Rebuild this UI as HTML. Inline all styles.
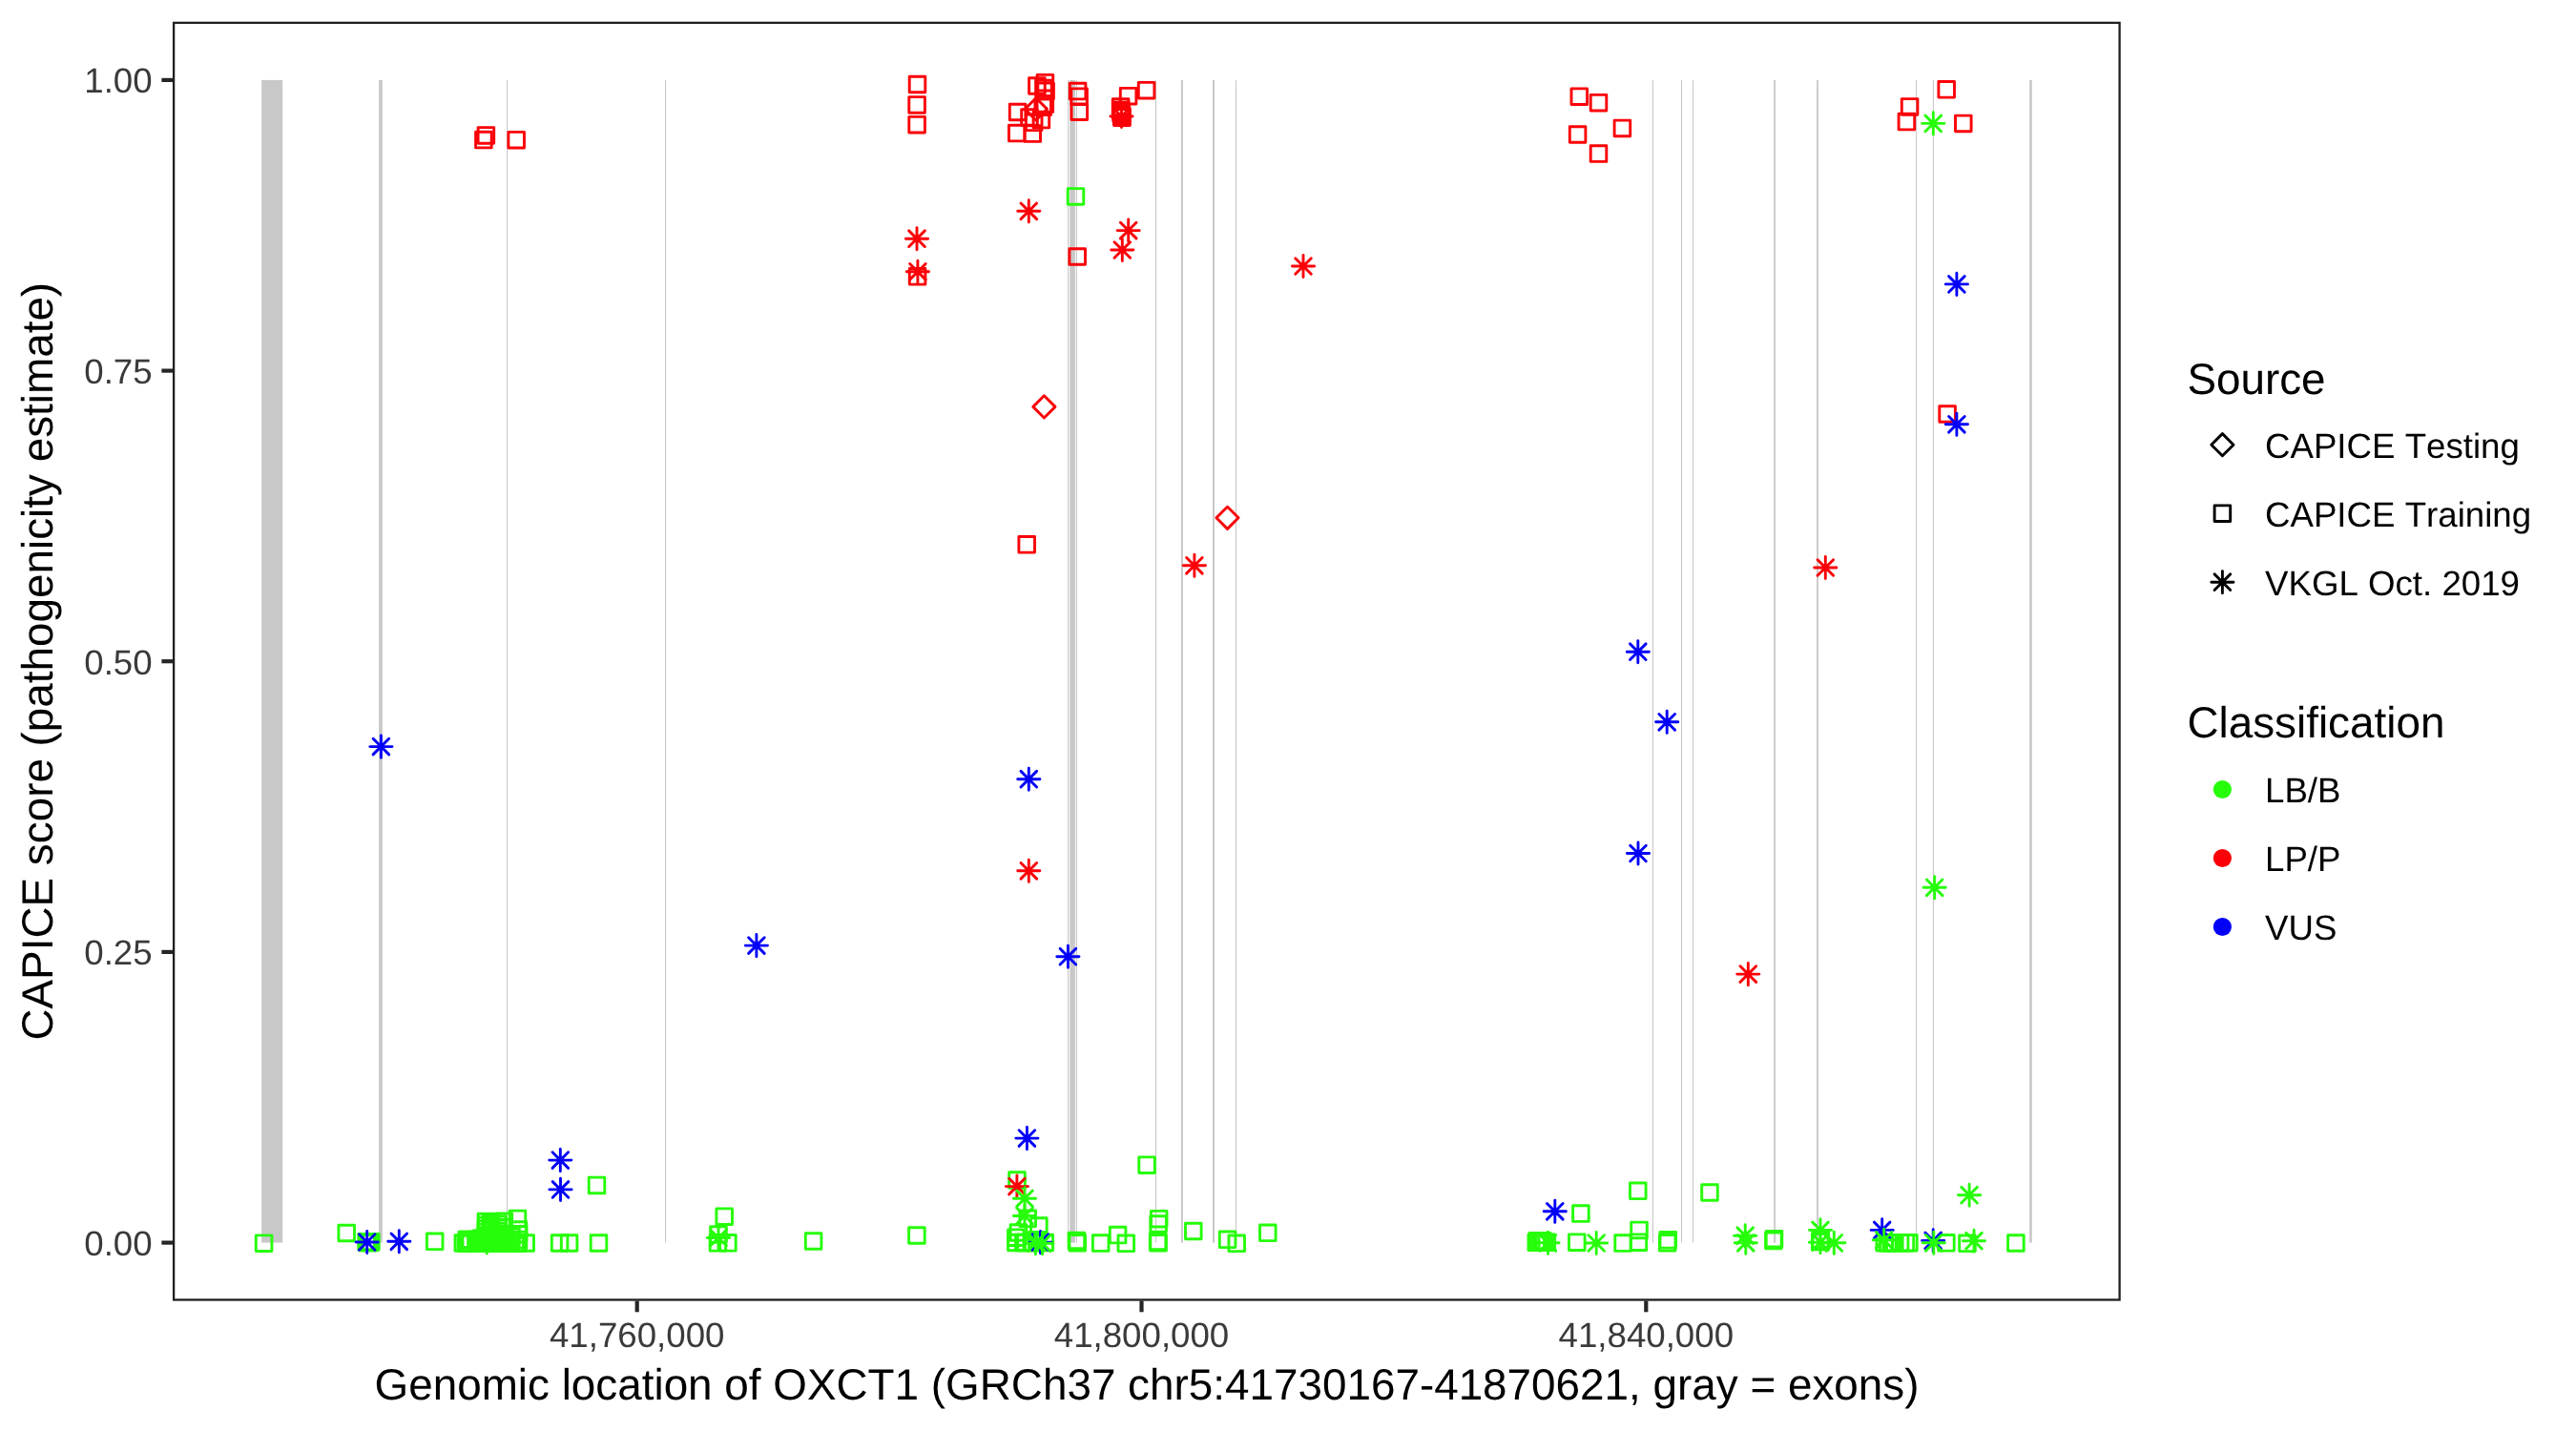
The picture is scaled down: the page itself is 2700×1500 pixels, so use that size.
<!DOCTYPE html>
<html><head><meta charset="utf-8"><title>CAPICE OXCT1</title>
<style>
html,body{margin:0;padding:0;background:#fff;}
body{width:2700px;height:1500px;overflow:hidden;}
svg{display:block;}
text{font-family:"Liberation Sans",sans-serif;font-kerning:none;text-rendering:geometricPrecision;}
svg{will-change:transform;}
.at{font-size:36.67px;fill:#3A3A3A;}
.ti{font-size:45.83px;fill:#000;}
.lt{font-size:36.67px;fill:#000;}
.m{fill:none;stroke-width:2.9;stroke-linejoin:round;stroke-linecap:round;}
</style></head><body>
<svg width="2700" height="1500" viewBox="0 0 2700 1500">
<defs>
<rect id="s" x="-8.3" y="-8.3" width="16.6" height="16.6"/>
<path id="d" d="M-11.6,0 L0,-11.6 L11.6,0 L0,11.6 Z"/>
<path id="a" d="M-11.6,0 H11.6 M0,-11.6 V11.6 M-8.3,-8.3 L8.3,8.3 M-8.3,8.3 L8.3,-8.3"/>
</defs>
<rect x="0" y="0" width="2700" height="1500" fill="#fff"/>

<g fill="#C8C8C8">
<rect x="274.20" y="83.9" width="22.00" height="1218.7"/>
<rect x="397.10" y="83.9" width="3.70" height="1218.7"/>
<rect x="531.05" y="83.9" width="1.10" height="1218.7"/>
<rect x="697.05" y="83.9" width="1.10" height="1218.7"/>
<rect x="1119.05" y="83.9" width="1.10" height="1218.7"/>
<rect x="1121.30" y="83.9" width="5.60" height="1218.7"/>
<rect x="1127.85" y="83.9" width="1.10" height="1218.7"/>
<rect x="1210.95" y="83.9" width="1.10" height="1218.7"/>
<rect x="1237.90" y="83.9" width="2.00" height="1218.7"/>
<rect x="1271.00" y="83.9" width="2.00" height="1218.7"/>
<rect x="1294.95" y="83.9" width="1.10" height="1218.7"/>
<rect x="1731.95" y="83.9" width="1.10" height="1218.7"/>
<rect x="1761.95" y="83.9" width="1.10" height="1218.7"/>
<rect x="1773.85" y="83.9" width="1.10" height="1218.7"/>
<rect x="1859.20" y="83.9" width="1.80" height="1218.7"/>
<rect x="1904.10" y="83.9" width="1.80" height="1218.7"/>
<rect x="2008.05" y="83.9" width="1.10" height="1218.7"/>
<rect x="2025.95" y="83.9" width="1.10" height="1218.7"/>
<rect x="2127.20" y="83.9" width="2.60" height="1218.7"/>
</g>
<g class="m" stroke="#FB0007">
<use href="#s" x="506.9" y="146.6"/>
<use href="#s" x="509.4" y="141.9"/>
<use href="#s" x="541.2" y="146.7"/>
<use href="#s" x="961.5" y="88.5"/>
<use href="#s" x="961.1" y="109.9"/>
<use href="#s" x="961.1" y="130.7"/>
<use href="#s" x="1095.4" y="86.7"/>
<use href="#s" x="1086.9" y="90.0"/>
<use href="#s" x="1096.1" y="95.4"/>
<use href="#s" x="1093.9" y="92.6"/>
<use href="#s" x="1095.3" y="109.1"/>
<use href="#s" x="1093.2" y="112.2"/>
<use href="#s" x="1066.6" y="117.5"/>
<use href="#s" x="1065.8" y="139.6"/>
<use href="#s" x="1082.2" y="140.1"/>
<use href="#s" x="1079.0" y="123.0"/>
<use href="#s" x="1083.7" y="128.3"/>
<use href="#s" x="1091.4" y="125.6"/>
<use href="#s" x="1129.6" y="95.6"/>
<use href="#s" x="1131.1" y="101.2"/>
<use href="#s" x="1131.3" y="117.2"/>
<use href="#s" x="1201.6" y="94.7"/>
<use href="#s" x="1182.6" y="100.7"/>
<use href="#s" x="1174.6" y="111.9"/>
<use href="#s" x="1174.7" y="115.3"/>
<use href="#s" x="1175.2" y="119.1"/>
<use href="#s" x="1176.0" y="123.2"/>
<use href="#s" x="1175.0" y="117.2"/>
<use href="#s" x="1175.8" y="121.2"/>
<use href="#s" x="1655.3" y="101.2"/>
<use href="#s" x="1675.5" y="107.7"/>
<use href="#s" x="1700.4" y="134.4"/>
<use href="#s" x="1653.6" y="141.0"/>
<use href="#s" x="1675.5" y="161.1"/>
<use href="#s" x="2040.2" y="93.8"/>
<use href="#s" x="2001.6" y="111.9"/>
<use href="#s" x="1998.4" y="127.6"/>
<use href="#s" x="2057.8" y="129.4"/>
<use href="#s" x="961.6" y="289.8"/>
<use href="#s" x="1129.2" y="269.0"/>
<use href="#s" x="1076.2" y="570.8"/>
<use href="#s" x="2041.1" y="434.0"/>
</g>
<g class="m" stroke="#26FD0A">
<use href="#s" x="1127.5" y="205.9"/>
<use href="#s" x="276.6" y="1303.2"/>
<use href="#s" x="363.2" y="1292.5"/>
<use href="#s" x="384.1" y="1301.8"/>
<use href="#s" x="388.9" y="1301.8"/>
<use href="#s" x="386.5" y="1301.8"/>
<use href="#s" x="385.3" y="1302.6"/>
<use href="#s" x="387.7" y="1302.4"/>
<use href="#s" x="455.7" y="1301.3"/>
<use href="#s" x="485.3" y="1303.0"/>
<use href="#s" x="488.3" y="1303.0"/>
<use href="#s" x="490.8" y="1303.0"/>
<use href="#s" x="493.3" y="1303.0"/>
<use href="#s" x="499.0" y="1303.0"/>
<use href="#s" x="502.0" y="1303.0"/>
<use href="#s" x="505.0" y="1303.0"/>
<use href="#s" x="508.0" y="1303.0"/>
<use href="#s" x="511.0" y="1303.0"/>
<use href="#s" x="514.0" y="1303.0"/>
<use href="#s" x="517.0" y="1303.0"/>
<use href="#s" x="520.0" y="1303.0"/>
<use href="#s" x="523.0" y="1303.0"/>
<use href="#s" x="526.0" y="1303.0"/>
<use href="#s" x="529.0" y="1303.0"/>
<use href="#s" x="530.6" y="1303.0"/>
<use href="#s" x="535.6" y="1303.0"/>
<use href="#s" x="540.2" y="1303.0"/>
<use href="#s" x="543.0" y="1303.0"/>
<use href="#s" x="551.2" y="1303.0"/>
<use href="#s" x="489.2" y="1299.5"/>
<use href="#s" x="491.6" y="1299.5"/>
<use href="#s" x="499.5" y="1299.5"/>
<use href="#s" x="502.6" y="1299.5"/>
<use href="#s" x="505.7" y="1299.5"/>
<use href="#s" x="508.8" y="1299.5"/>
<use href="#s" x="511.9" y="1299.5"/>
<use href="#s" x="515.0" y="1299.5"/>
<use href="#s" x="518.1" y="1299.5"/>
<use href="#s" x="521.2" y="1299.5"/>
<use href="#s" x="524.3" y="1299.5"/>
<use href="#s" x="527.4" y="1299.5"/>
<use href="#s" x="530.5" y="1299.5"/>
<use href="#s" x="533.6" y="1299.5"/>
<use href="#s" x="500.0" y="1301.3"/>
<use href="#s" x="505.0" y="1301.3"/>
<use href="#s" x="510.0" y="1301.3"/>
<use href="#s" x="515.0" y="1301.3"/>
<use href="#s" x="520.0" y="1301.3"/>
<use href="#s" x="525.0" y="1301.3"/>
<use href="#s" x="530.0" y="1301.3"/>
<use href="#s" x="535.0" y="1301.3"/>
<use href="#s" x="509.5" y="1280.5"/>
<use href="#s" x="509.5" y="1284.4"/>
<use href="#s" x="509.5" y="1287.9"/>
<use href="#s" x="509.5" y="1291.4"/>
<use href="#s" x="509.5" y="1295.0"/>
<use href="#s" x="514.5" y="1282.5"/>
<use href="#s" x="522.0" y="1283.1"/>
<use href="#s" x="514.5" y="1286.4"/>
<use href="#s" x="522.0" y="1287.0"/>
<use href="#s" x="514.5" y="1290.0"/>
<use href="#s" x="522.0" y="1290.6"/>
<use href="#s" x="514.5" y="1294.0"/>
<use href="#s" x="522.0" y="1294.6"/>
<use href="#s" x="528.3" y="1280.2"/>
<use href="#s" x="528.3" y="1286.4"/>
<use href="#s" x="528.3" y="1293.4"/>
<use href="#s" x="528.3" y="1297.0"/>
<use href="#s" x="543.5" y="1289.1"/>
<use href="#s" x="543.5" y="1293.7"/>
<use href="#s" x="543.5" y="1299.6"/>
<use href="#s" x="542.5" y="1277.4"/>
<use href="#s" x="536.0" y="1296.0"/>
<use href="#s" x="518.0" y="1297.0"/>
<use href="#s" x="505.0" y="1298.0"/>
<use href="#s" x="586.6" y="1303.0"/>
<use href="#s" x="596.6" y="1303.0"/>
<use href="#s" x="627.5" y="1303.0"/>
<use href="#s" x="625.5" y="1242.4"/>
<use href="#s" x="759.2" y="1275.2"/>
<use href="#s" x="753.0" y="1294.0"/>
<use href="#s" x="752.4" y="1302.8"/>
<use href="#s" x="762.9" y="1302.8"/>
<use href="#s" x="852.6" y="1301.0"/>
<use href="#s" x="960.9" y="1295.0"/>
<use href="#s" x="1066.0" y="1237.1"/>
<use href="#s" x="1077.2" y="1277.3"/>
<use href="#s" x="1088.9" y="1285.0"/>
<use href="#s" x="1067.4" y="1292.0"/>
<use href="#s" x="1064.9" y="1297.2"/>
<use href="#s" x="1064.9" y="1302.5"/>
<use href="#s" x="1072.8" y="1302.5"/>
<use href="#s" x="1074.9" y="1302.5"/>
<use href="#s" x="1082.8" y="1302.5"/>
<use href="#s" x="1086.8" y="1299.7"/>
<use href="#s" x="1095.2" y="1302.4"/>
<use href="#s" x="1128.4" y="1300.5"/>
<use href="#s" x="1129.2" y="1302.8"/>
<use href="#s" x="1153.7" y="1303.1"/>
<use href="#s" x="1171.6" y="1294.6"/>
<use href="#s" x="1180.3" y="1303.3"/>
<use href="#s" x="1202.1" y="1221.2"/>
<use href="#s" x="1214.7" y="1277.7"/>
<use href="#s" x="1214.1" y="1283.0"/>
<use href="#s" x="1214.1" y="1302.8"/>
<use href="#s" x="1213.6" y="1301.4"/>
<use href="#s" x="1250.8" y="1290.5"/>
<use href="#s" x="1286.6" y="1299.3"/>
<use href="#s" x="1296.2" y="1303.3"/>
<use href="#s" x="1328.8" y="1292.3"/>
<use href="#s" x="1656.9" y="1272.1"/>
<use href="#s" x="1716.8" y="1248.3"/>
<use href="#s" x="1792.0" y="1250.0"/>
<use href="#s" x="1610.3" y="1302.2"/>
<use href="#s" x="1612.6" y="1302.2"/>
<use href="#s" x="1615.0" y="1302.2"/>
<use href="#s" x="1618.4" y="1302.2"/>
<use href="#s" x="1621.3" y="1302.2"/>
<use href="#s" x="1611.5" y="1300.8"/>
<use href="#s" x="1616.5" y="1300.8"/>
<use href="#s" x="1652.8" y="1302.2"/>
<use href="#s" x="1701.1" y="1303.1"/>
<use href="#s" x="1718.0" y="1289.4"/>
<use href="#s" x="1717.4" y="1302.2"/>
<use href="#s" x="1748.3" y="1299.8"/>
<use href="#s" x="1747.7" y="1302.8"/>
<use href="#s" x="1859.5" y="1298.7"/>
<use href="#s" x="1858.9" y="1300.4"/>
<use href="#s" x="1907.7" y="1301.6"/>
<use href="#s" x="1908.3" y="1299.3"/>
<use href="#s" x="1975.3" y="1302.8"/>
<use href="#s" x="1978.8" y="1302.8"/>
<use href="#s" x="1982.3" y="1302.8"/>
<use href="#s" x="1985.8" y="1302.8"/>
<use href="#s" x="1991.6" y="1302.8"/>
<use href="#s" x="1997.4" y="1302.8"/>
<use href="#s" x="2000.9" y="1302.8"/>
<use href="#s" x="2039.9" y="1302.8"/>
<use href="#s" x="2062.0" y="1303.3"/>
<use href="#s" x="2112.9" y="1303.0"/>
</g>
<g class="m" stroke="#FB0007">
<use href="#d" x="1085.9" y="114.4"/>
<use href="#d" x="1094.4" y="426.4"/>
<use href="#d" x="1286.5" y="542.8"/>
</g>
<g class="m" stroke="#FB0007">
<use href="#a" x="1175.5" y="122.0"/>
<use href="#a" x="1078.3" y="221.3"/>
<use href="#a" x="961.0" y="250.2"/>
<use href="#a" x="961.9" y="284.8"/>
<use href="#a" x="1182.7" y="241.6"/>
<use href="#a" x="1176.3" y="262.0"/>
<use href="#a" x="1366.0" y="279.0"/>
<use href="#a" x="1251.9" y="592.8"/>
<use href="#a" x="1078.3" y="912.8"/>
<use href="#a" x="1913.3" y="595.0"/>
<use href="#a" x="1832.3" y="1021.1"/>
<use href="#a" x="1065.9" y="1243.6"/>
</g>
<g class="m" stroke="#0300F8">
<use href="#a" x="399.4" y="782.6"/>
<use href="#a" x="2050.9" y="297.9"/>
<use href="#a" x="2050.9" y="444.8"/>
<use href="#a" x="1716.8" y="683.2"/>
<use href="#a" x="1747.2" y="756.8"/>
<use href="#a" x="1078.3" y="816.7"/>
<use href="#a" x="1717.0" y="894.5"/>
<use href="#a" x="792.9" y="991.1"/>
<use href="#a" x="1119.4" y="1002.7"/>
<use href="#a" x="587.3" y="1216.1"/>
<use href="#a" x="587.5" y="1246.9"/>
<use href="#a" x="1076.4" y="1193.1"/>
<use href="#a" x="384.7" y="1302.0"/>
<use href="#a" x="418.3" y="1301.3"/>
<use href="#a" x="1090.5" y="1302.1"/>
<use href="#a" x="1629.8" y="1269.8"/>
<use href="#a" x="1972.7" y="1289.4"/>
<use href="#a" x="2026.2" y="1300.4"/>
</g>
<g class="m" stroke="#26FD0A">
<use href="#a" x="2026.3" y="129.4"/>
<use href="#a" x="2027.7" y="930.3"/>
<use href="#a" x="2064.1" y="1252.7"/>
<use href="#a" x="510.3" y="1302.5"/>
<use href="#a" x="753.0" y="1297.5"/>
<use href="#a" x="1074.0" y="1256.3"/>
<use href="#a" x="1074.0" y="1274.5"/>
<use href="#a" x="1085.4" y="1303.2"/>
<use href="#a" x="1092.5" y="1303.2"/>
<use href="#a" x="1622.5" y="1302.8"/>
<use href="#a" x="1673.2" y="1303.0"/>
<use href="#a" x="1829.2" y="1295.2"/>
<use href="#a" x="1829.8" y="1302.8"/>
<use href="#a" x="1908.0" y="1289.4"/>
<use href="#a" x="1908.0" y="1302.2"/>
<use href="#a" x="1922.3" y="1302.8"/>
<use href="#a" x="1974.7" y="1299.8"/>
<use href="#a" x="2026.8" y="1302.8"/>
<use href="#a" x="2069.0" y="1300.7"/>
</g>
<rect x="182.1" y="23.9" width="2039.5" height="1338.6" fill="none" stroke="#1F1F1F" stroke-width="2.3"/>
<g stroke="#252525" stroke-width="4.2">
<line x1="169.4" x2="181" y1="83.9" y2="83.9"/>
<line x1="169.4" x2="181" y1="388.6" y2="388.6"/>
<line x1="169.4" x2="181" y1="693.2" y2="693.2"/>
<line x1="169.4" x2="181" y1="997.9" y2="997.9"/>
<line x1="169.4" x2="181" y1="1302.6" y2="1302.6"/>
<line x1="667.7" x2="667.7" y1="1363.6" y2="1375.3"/>
<line x1="1196.5" x2="1196.5" y1="1363.6" y2="1375.3"/>
<line x1="1725.3" x2="1725.3" y1="1363.6" y2="1375.3"/>
</g>
<text class="at" x="159.6" y="97.1" text-anchor="end">1.00</text>
<text class="at" x="159.6" y="401.8" text-anchor="end">0.75</text>
<text class="at" x="159.6" y="706.5" text-anchor="end">0.50</text>
<text class="at" x="159.6" y="1011.1" text-anchor="end">0.25</text>
<text class="at" x="159.6" y="1315.8" text-anchor="end">0.00</text>
<text class="at" x="667.7" y="1412.2" text-anchor="middle">41,760,000</text>
<text class="at" x="1196.5" y="1412.2" text-anchor="middle">41,800,000</text>
<text class="at" x="1725.3" y="1412.2" text-anchor="middle">41,840,000</text>
<text class="ti" x="1202" y="1466.9" text-anchor="middle">Genomic location of OXCT1 (GRCh37 chr5:41730167-41870621, gray = exons)</text>
<text class="ti" transform="translate(55,693.2) rotate(-90)" text-anchor="middle">CAPICE score (pathogenicity estimate)</text>
<text class="ti" x="2292.4" y="413">Source</text>
<g class="m" stroke="#000"><use href="#d" x="2329.4" y="466.2"/><use href="#s" x="2329.4" y="538.2"/><use href="#a" x="2329.4" y="610.2"/></g>
<text class="lt" x="2374" y="479.5">CAPICE Testing</text>
<text class="lt" x="2374" y="551.5">CAPICE Training</text>
<text class="lt" x="2374" y="623.5">VKGL Oct. 2019</text>
<text class="ti" x="2292.4" y="773.4">Classification</text>
<circle cx="2329.4" cy="827.5" r="9.6" fill="#26FD0A"/>
<text class="lt" x="2374" y="840.8">LB/B</text>
<circle cx="2329.4" cy="899.5" r="9.6" fill="#FB0007"/>
<text class="lt" x="2374" y="912.8">LP/P</text>
<circle cx="2329.4" cy="971.5" r="9.6" fill="#0300F8"/>
<text class="lt" x="2374" y="984.8">VUS</text>
</svg></body></html>
